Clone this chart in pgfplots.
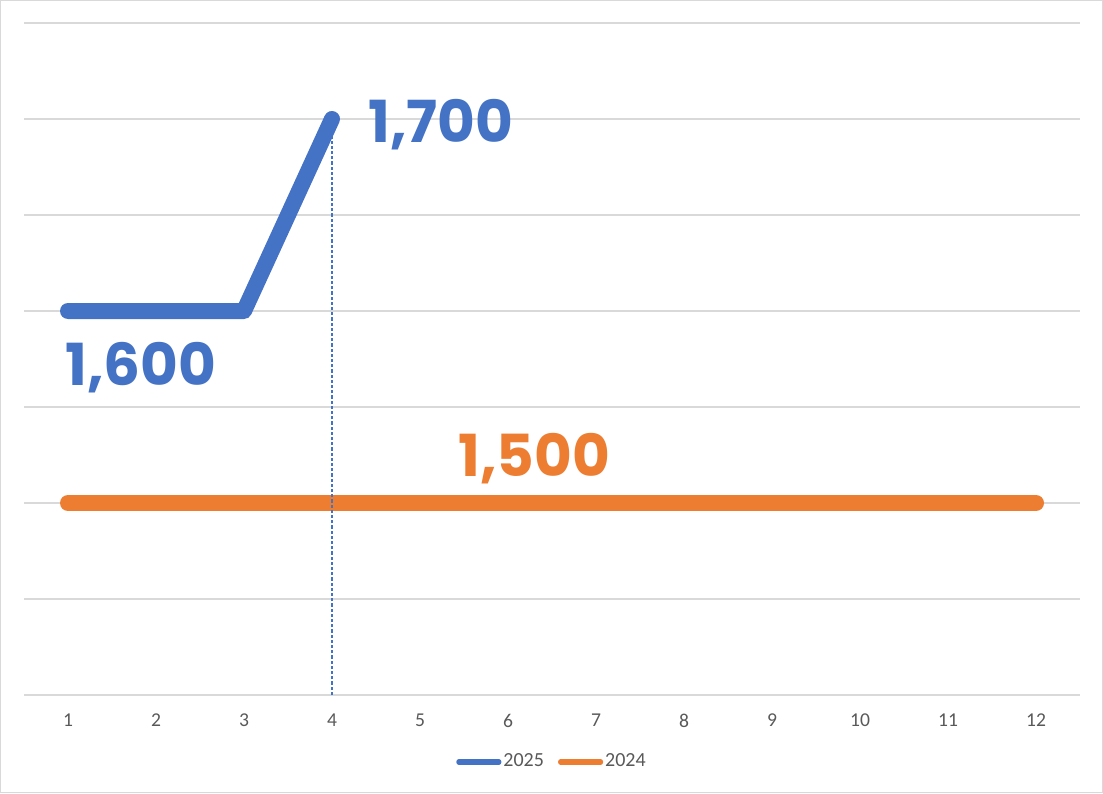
\documentclass[border=0pt]{standalone}
\usepackage{pgfplots}
\pgfplotsset{compat=1.18}
\usepackage{fontspec}
\setmainfont{Carlito}
\newfontfamily\labelfont{Poppins}
\definecolor{blue25}{HTML}{4472C4}
\definecolor{orange24}{HTML}{ED7D31}
\definecolor{gridgray}{HTML}{D9D9D9}
\definecolor{ticktext}{HTML}{595959}

\begin{document}
\begin{tikzpicture}
\draw[gridgray, line width=0.6pt, use as bounding box] (0.3pt,0.3pt) rectangle (551.2pt,396.2pt);
\begin{axis}[
    at={(12pt,49pt)}, anchor=south west,
    scale only axis,
    width=528pt, height=336pt,
    xmin=0.5, xmax=12.5,
    ymin=1400, ymax=1750,
    xtick={1,...,12},
    ytick={1400,1450,...,1750},
    yticklabels={},
    ymajorgrids,
    grid style={gridgray, line width=0.6pt},
    axis line style={draw=none},
    major tick style={draw=none},
    /pgf/number format/assume math mode=true,
    xticklabel style={font=\fontsize{9.8}{11}\selectfont, text=ticktext, yshift=-6pt},
    legend style={at={(0.5,0)}, anchor=center, yshift=-33.5pt, draw=none,
        font=\fontsize{10}{11}\selectfont, text=ticktext, legend columns=2,
        nodes={inner xsep=1pt},
        /tikz/every even column/.append style={column sep=6pt}},
    legend image code/.code={\draw[#1, line width=2.6pt, line cap=round] (0pt,0pt) -- (20pt,0pt);},
    clip=false,
]
\addplot[blue25, line width=8pt, line cap=round, line join=round] coordinates {
    (1,1600) (2,1600) (3,1600) (4,1700)
};
\addlegendentry{2025}
\addplot[orange24, line width=8pt, line cap=round, line join=round] coordinates {
    (1,1500) (2,1500) (3,1500) (4,1500) (5,1500) (6,1500)
    (7,1500) (8,1500) (9,1500) (10,1500) (11,1500) (12,1500)
};
\addlegendentry{2024}
\addplot[blue25, line width=0.7pt, dash pattern=on 1.6pt off 1pt, forget plot] coordinates {
    (4,1400) (4,1700)
};
\node[anchor=base west, inner sep=0pt, text=blue25, font=\labelfont\bfseries\fontsize{29}{31}\selectfont, xshift=18pt] at (axis cs:4,1688) {1,700};
\node[anchor=base west, inner sep=0pt, text=blue25, font=\labelfont\bfseries\fontsize{29}{31}\selectfont, xshift=-1.5pt] at (axis cs:1,1561) {1,600};
\node[anchor=base west, inner sep=0pt, text=orange24, font=\labelfont\bfseries\fontsize{29}{31}\selectfont] at (axis cs:5.43,1514) {1,500};
\end{axis}
\end{tikzpicture}
\end{document}
